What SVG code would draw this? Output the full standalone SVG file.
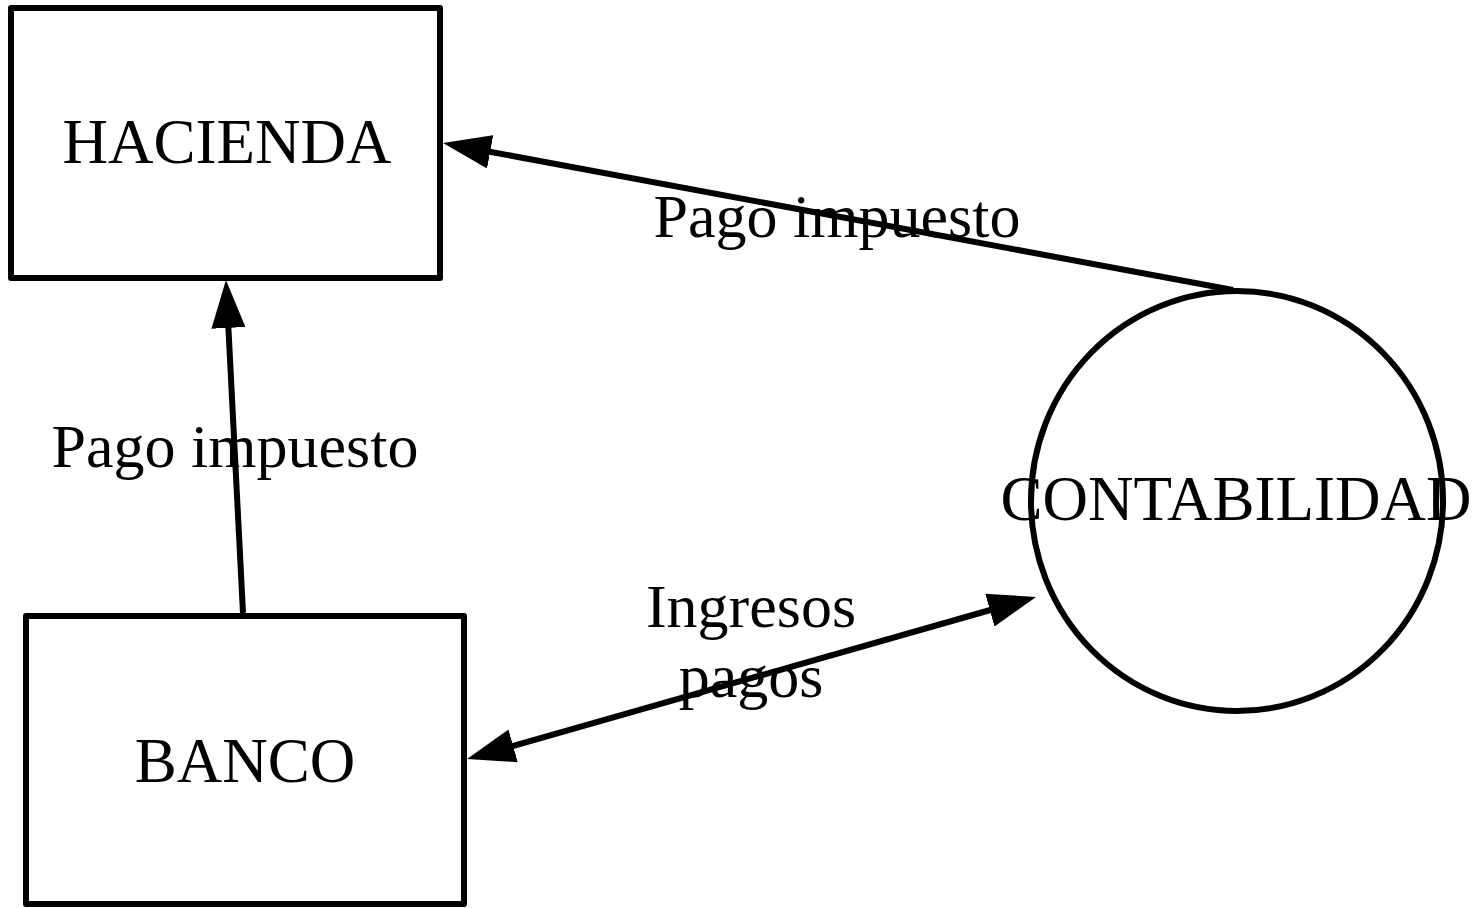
<svg xmlns="http://www.w3.org/2000/svg" width="1477" height="908" viewBox="0 0 1477 908">
  <style>
    .box { fill: #fff; stroke: #000; stroke-width: 6; stroke-linejoin: round; }
    .node-text { font-family: "Liberation Serif", "Times New Roman", serif; font-size: 63px; fill: #000; text-anchor: middle; }
    .label { font-family: "Liberation Serif", "Times New Roman", serif; font-size: 62px; fill: #000; text-anchor: middle; }
    .conn { fill: none; stroke: #000; stroke-width: 6; }
  </style>
  <defs>
    <marker id="arrow" viewBox="0 0 48 34" refX="6" refY="17" markerWidth="48" markerHeight="34" markerUnits="userSpaceOnUse" orient="auto-start-reverse">
      <path d="M0,0 L48,17 L0,34 z" fill="#000"/>
    </marker>
  </defs>
  <rect width="1477" height="908" fill="#fff"/>

  <g id="hacienda">
    <rect class="box" x="11" y="8" width="429" height="270"/>
    <text class="node-text" x="227" y="163">HACIENDA</text>
  </g>

  <g id="banco">
    <rect class="box" x="26" y="616" width="438" height="288"/>
    <text class="node-text" x="245" y="782">BANCO</text>
  </g>

  <g id="contabilidad">
    <ellipse class="box" cx="1237" cy="501" rx="206" ry="210"/>
    <text class="node-text" x="1236" y="520">CONTABILIDAD</text>
  </g>

  <g id="connectors">
    <line class="conn" x1="1233" y1="290" x2="484.3" y2="150.7" marker-end="url(#arrow)"/>
    <line class="conn" x1="243" y1="613" x2="228.1" y2="321.9" marker-end="url(#arrow)"/>
    <line class="conn" x1="507.4" y1="747.5" x2="995.6" y2="608.5" marker-start="url(#arrow)" marker-end="url(#arrow)"/>
  </g>

  <g id="labels">
    <text class="label" x="837" y="237">Pago impuesto</text>
    <text class="label" x="235" y="467">Pago impuesto</text>
    <text class="label" x="751" y="627">Ingresos</text>
    <text class="label" x="751" y="697">pagos</text>
  </g>
</svg>
